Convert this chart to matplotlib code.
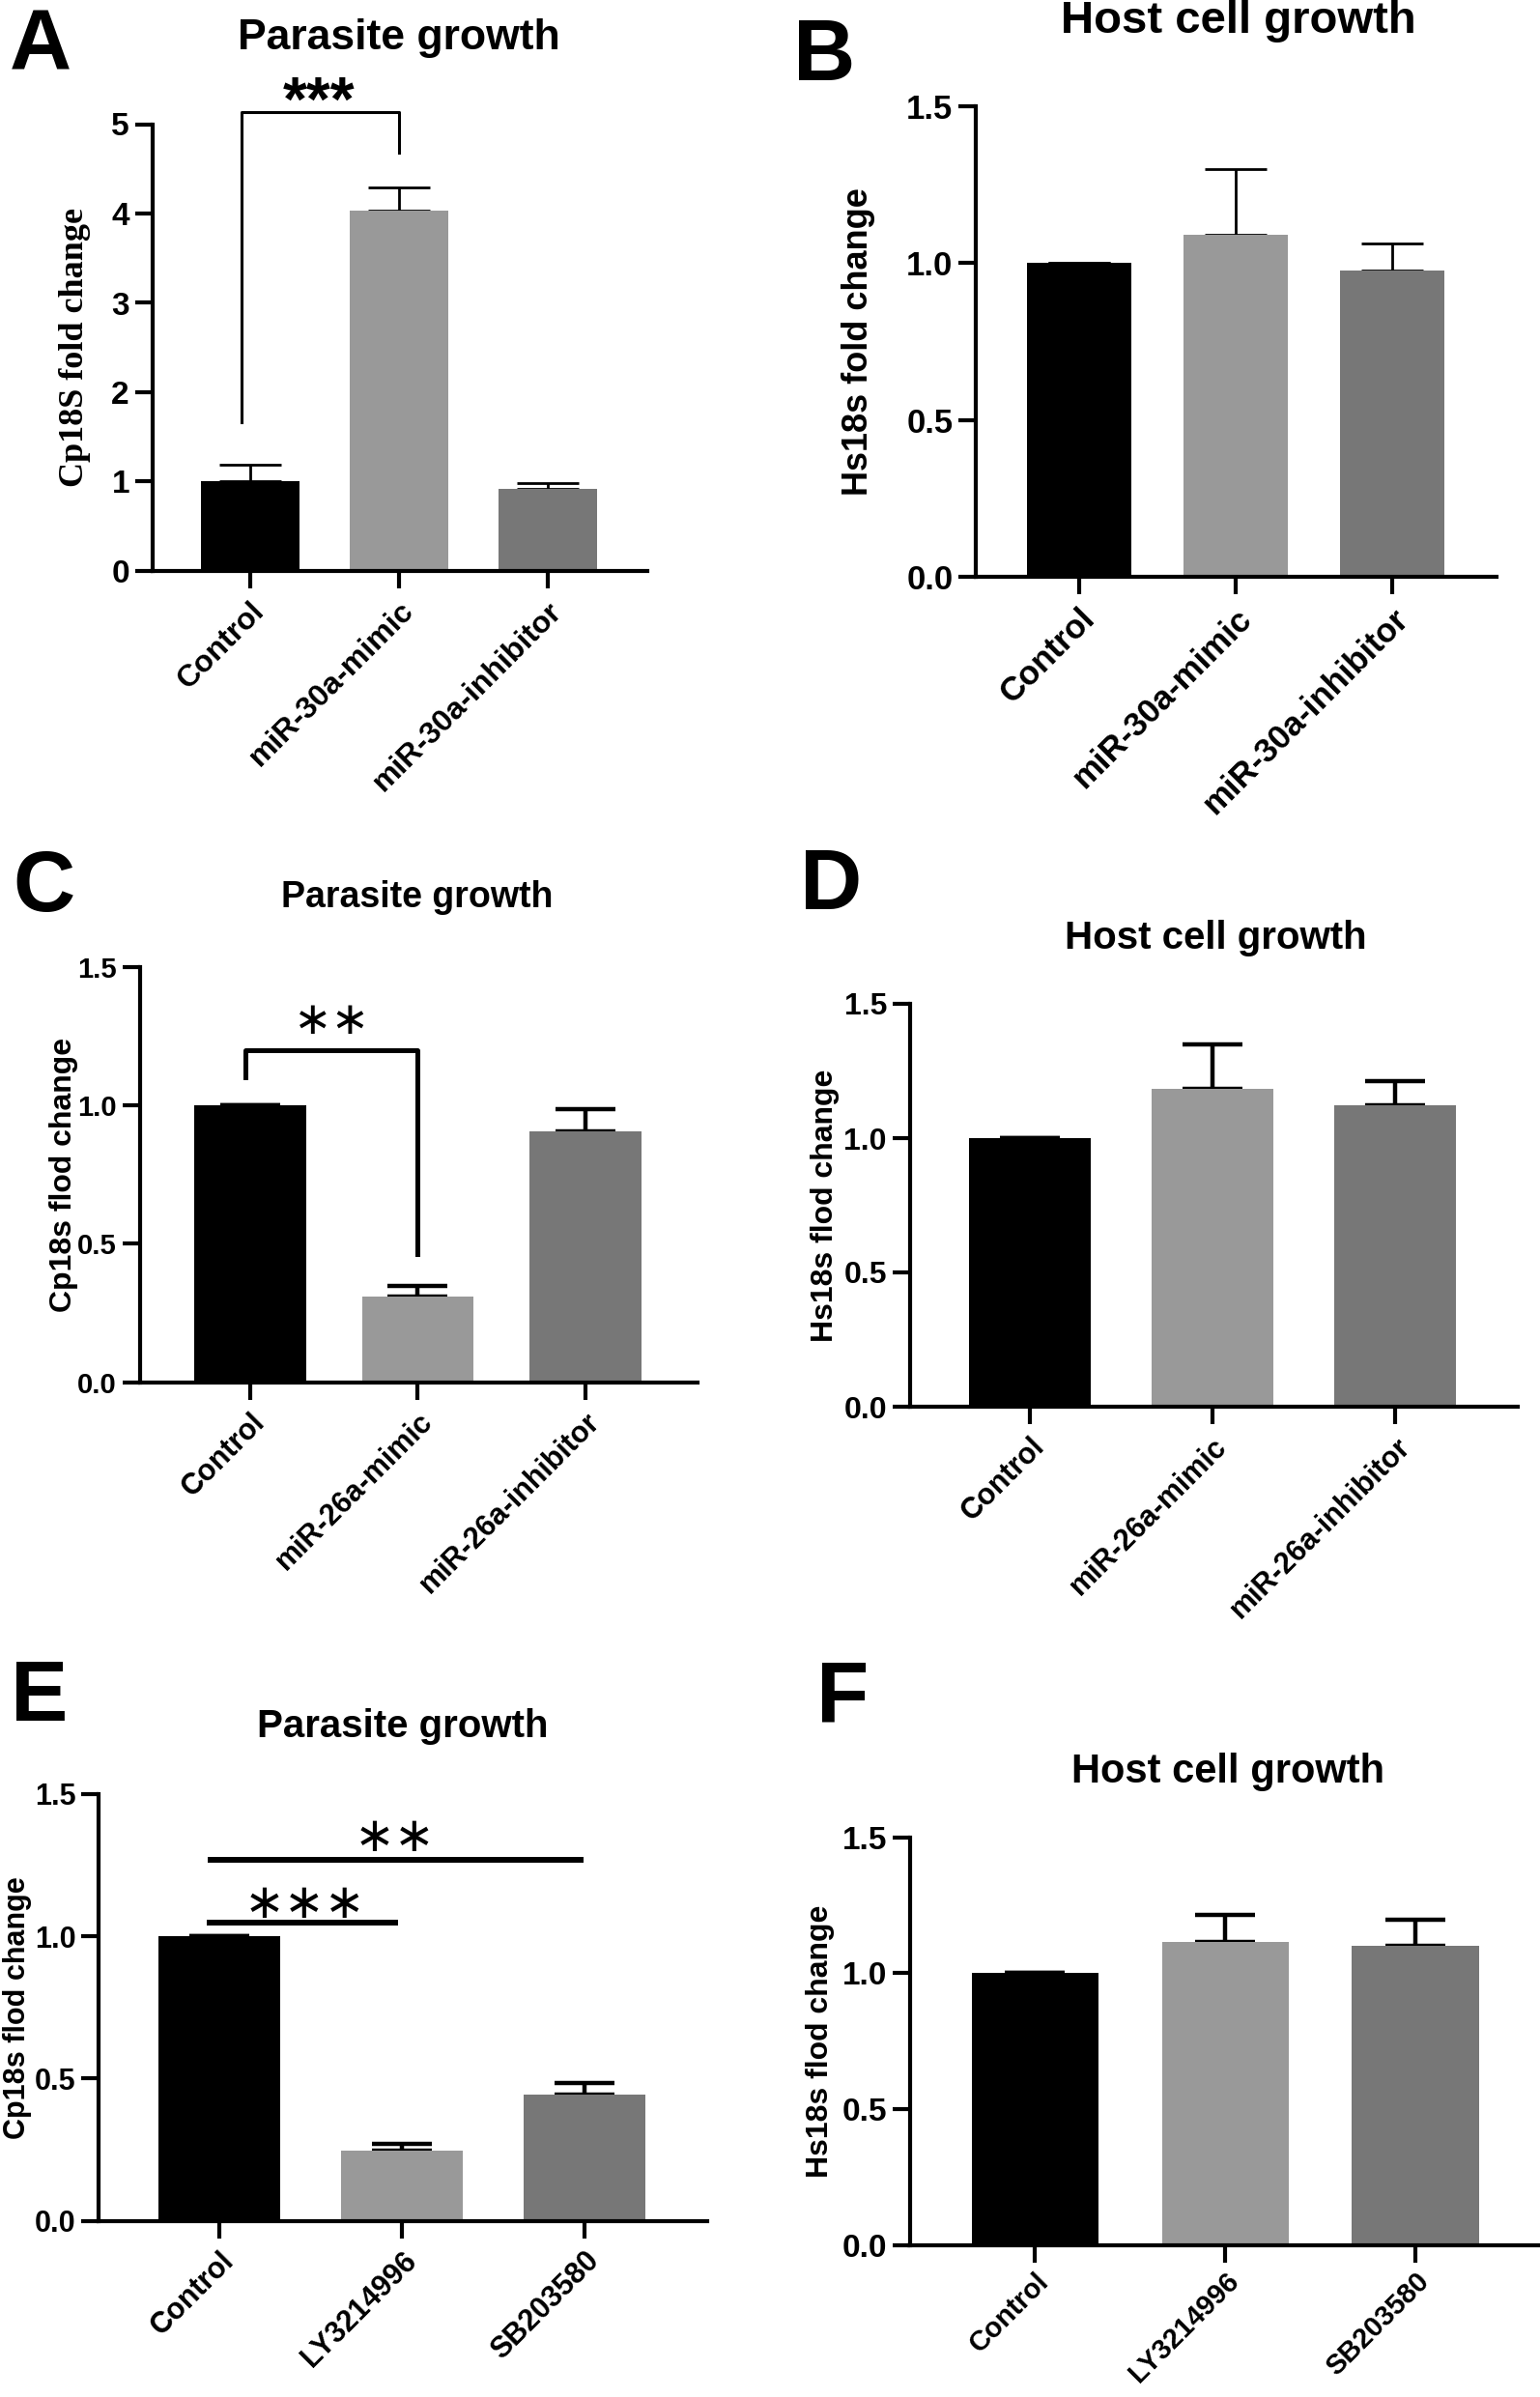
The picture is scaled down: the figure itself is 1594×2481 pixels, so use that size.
import matplotlib
matplotlib.use('Agg')
import matplotlib.pyplot as plt

plt.rcParams['font.family'] = ['Liberation Sans', 'DejaVu Sans']
plt.rcParams['font.weight'] = 'bold'

# data
groups_mir30 = ['Control', 'miR-30a-mimic', 'miR-30a-inhibitor']
groups_mir26 = ['Control', 'miR-26a-mimic', 'miR-26a-inhibitor']
groups_drug = ['Control', 'LY3214996', 'SB203580']

mean_a = [1.0, 4.03, 0.92]
err_a = [0.19, 0.26, 0.06]
mean_b = [1.0, 1.09, 0.976]
err_b = [0.0, 0.21, 0.086]
mean_c = [1.0, 0.31, 0.905]
err_c = [0.0, 0.036, 0.08]
mean_d = [1.0, 1.183, 1.122]
err_d = [0.0, 0.165, 0.092]
mean_e = [1.0, 0.245, 0.443]
err_e = [0.0, 0.024, 0.041]
mean_f = [1.0, 1.114, 1.10]
err_f = [0.0, 0.101, 0.097]

ticks_15 = [0, 0.5, 1.0, 1.5]
ticklabels_15 = ['0.0', '0.5', '1.0', '1.5']

bar_colors = ['#000000', '#999999', '#777777']

W, H = 1594.0, 2481.0

fig = plt.figure(figsize=(15.94, 24.81), dpi=100)


def fx(x):
    return x / W


def fy(y):
    return 1 - y / H


def panel(box, groups, means, errs, ymax, yticks, ticklabels, title, title_xy,
          ylabel, ylabel_x, letter, letter_xy, xright=2.67, ylabel_font=None,
          tick_fs=22, xtick_fs=22, title_fs=29, ylabel_fs=23, err_lw=2.0,
          capsize=23, xpad=6):
    l, r, t, b = box
    ax = fig.add_axes([fx(l), fy(b), fx(r) - fx(l), fy(t) - fy(b)])
    x = range(len(groups))
    ax.bar(x, means, width=0.667, color=bar_colors, zorder=2)
    ax.errorbar(x, means, yerr=[[0] * len(errs), errs], fmt='none',
                ecolor='black', elinewidth=err_lw, capsize=capsize,
                capthick=err_lw, zorder=1)
    ax.set_xlim(-0.66, xright)
    ax.set_ylim(0, ymax)
    ax.set_yticks(yticks)
    ax.set_yticklabels(ticklabels, fontsize=tick_fs, fontweight='bold')
    ax.set_xticks(list(x))
    ax.set_xticklabels(groups, rotation=45, ha='right', rotation_mode='anchor',
                       fontsize=xtick_fs, fontweight='bold')
    for s in ['top', 'right']:
        ax.spines[s].set_visible(False)
    for s in ['left', 'bottom']:
        ax.spines[s].set_linewidth(3.0)
    ax.tick_params(width=3.0, length=13, pad=4)
    ax.tick_params(axis='x', pad=xpad)
    fig.text(fx(title_xy[0]), fy(title_xy[1]), title, ha='center', va='center',
             fontsize=title_fs, fontweight='bold')
    kw = dict(rotation=90, ha='center', va='center', fontsize=ylabel_fs,
              fontweight='bold')
    if ylabel_font:
        kw['family'] = ylabel_font
    fig.text(fx(ylabel_x), fy((t + b) / 2), ylabel, **kw)
    fig.text(fx(letter_xy[0]), fy(letter_xy[1]), letter, ha='center',
             va='center', fontsize=64, fontweight='bold')
    ax.patch.set_alpha(0)
    return ax


# A
ax = panel((157.5, 670, 128.5, 591), groups_mir30, mean_a, err_a, 5, range(6),
           [str(v) for v in range(6)], 'Parasite growth', (413, 40),
           'Cp18S fold change', 77, 'A', (42, 50),
           ylabel_font='Liberation Serif', ylabel_fs=26, title_fs=32,
           tick_fs=24, xtick_fs=23)
ax.plot([-0.06, -0.06, 1, 1], [1.67, 5.13, 5.13, 4.68], color='black', lw=2.2,
        clip_on=False)
ax.text(0.46, 5.04, '***', ha='center', va='baseline', fontsize=46,
        fontweight='bold')

# B
panel((1010, 1549, 110, 597), groups_mir30, mean_b, err_b, 1.5, ticks_15,
      ticklabels_15, 'Host cell growth', (1282, 22), 'Hs18s fold change', 888,
      'B', (853, 60), title_fs=34, tick_fs=25, xtick_fs=25, ylabel_fs=26)

# C
ax = panel((144.5, 722, 1000.5, 1430.5), groups_mir26, mean_c, err_c, 1.5,
           ticks_15, ticklabels_15, 'Parasite growth', (432, 929),
           'Cp18s flod change', 66, 'C', (45, 920),
           title_fs=27, tick_fs=21, xtick_fs=22, ylabel_fs=23, err_lw=3.2,
           capsize=22)
ax.plot([-0.03, -0.03, 1, 1], [1.10, 1.197, 1.197, 0.463], color='black',
        lw=3.6, clip_on=False)
ax.text(0.49, 1.30, '∗∗', ha='center', va='center', fontsize=34,
        fontweight='normal', family='DejaVu Sans')

# D
panel((941.5, 1571, 1039, 1456), groups_mir26, mean_d, err_d, 1.5, ticks_15,
      ticklabels_15, 'Host cell growth', (1258, 971), 'Hs18s flod change',
      854, 'D', (860, 918), title_fs=29, tick_fs=23, xtick_fs=22,
      ylabel_fs=23, err_lw=3.2, capsize=22)

# E
ax = panel((102.3, 731.5, 1857, 2298.5), groups_drug, mean_e, err_e, 1.5,
           ticks_15, ticklabels_15, 'Parasite growth', (417, 1787),
           'Cp18s flod change', 18, 'E', (41, 1758),
           title_fs=29, tick_fs=22, xtick_fs=22, ylabel_fs=22, err_lw=3.2,
           capsize=22)
ax.plot([-0.055, 0.963], [1.047, 1.047], color='black', lw=4.3,
        clip_on=False)
ax.plot([-0.046, 1.978], [1.268, 1.268], color='black', lw=4.3,
        clip_on=False)
ax.text(0.467, 1.113, '∗∗∗', ha='center', va='center', fontsize=36,
        fontweight='normal', family='DejaVu Sans')
ax.text(0.96, 1.348, '∗∗', ha='center', va='center', fontsize=36,
        fontweight='normal', family='DejaVu Sans')

# F
panel((941.5, 1594, 1901.7, 2323.5), groups_drug, mean_f, err_f, 1.5,
      ticks_15, ticklabels_15, 'Host cell growth', (1271, 1834.5),
      'Hs18s flod change', 849, 'F', (872, 1760), xright=2.656,
      title_fs=30, tick_fs=24, xtick_fs=21, ylabel_fs=23, err_lw=3.2,
      capsize=22, xpad=4)

fig.savefig('out.png', dpi=100)
